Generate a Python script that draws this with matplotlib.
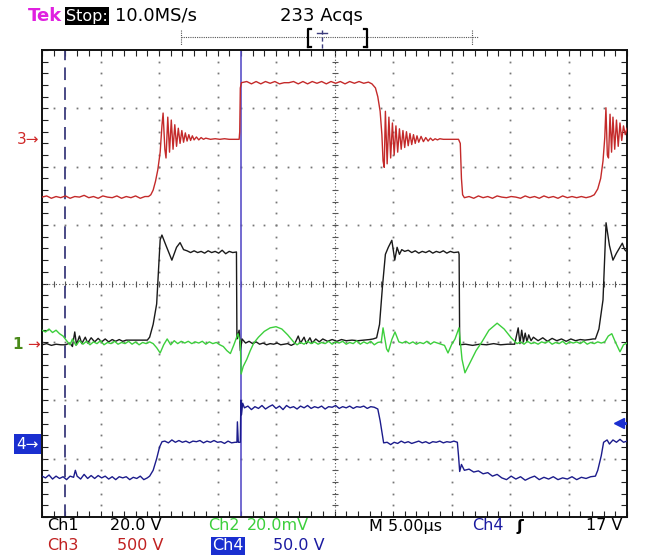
import numpy as np
import matplotlib
matplotlib.use('Agg')
import matplotlib.pyplot as plt
from matplotlib import transforms

# time in microseconds (5 us/div), amplitude in screen divisions
ch3_t = [0.0, 0.4, 0.8, 1.2, 1.6, 2.0, 2.4, 2.8, 3.2, 3.6, 4.0, 4.4, 4.8, 5.2, 5.6, 6.0, 6.4, 6.8, 7.2, 7.6, 8.0, 8.4, 8.8, 9.1,
         9.3, 9.5, 9.7, 9.9, 10.1, 10.25, 10.35, 10.5, 10.6, 10.75, 10.9, 11.05, 11.2, 11.35, 11.5, 11.65, 11.8, 11.95, 12.1, 12.25,
         12.4, 12.55, 12.7, 12.85, 13.0, 13.2, 13.4, 13.6, 13.8, 14.0, 14.4, 14.8, 15.2, 15.6, 16.0, 16.4, 16.85,
         16.9, 16.95, 17.05, 17.5, 17.9, 18.3, 18.7, 19.1, 19.5, 19.9, 20.3, 20.7, 21.1, 21.5, 21.9, 22.3, 22.7, 23.1, 23.5, 23.9,
         24.3, 24.7, 25.1, 25.5, 25.9, 26.3, 26.7, 27.1, 27.5, 27.9, 28.2,
         28.5, 28.7, 28.9, 29.05, 29.15, 29.25, 29.35, 29.5, 29.65, 29.8, 29.95, 30.1, 30.25, 30.4, 30.55, 30.7, 30.85, 31.0, 31.15,
         31.3, 31.45, 31.6, 31.75, 31.9, 32.05, 32.2, 32.4, 32.6, 32.8, 33.0, 33.2, 33.4, 33.6, 33.8, 34.0, 34.3, 35.0, 35.6, 35.75,
         35.85, 35.95, 36.1, 36.5, 36.9, 37.3, 37.7, 38.1, 38.5, 38.9, 39.3, 39.7, 40.1, 40.5, 40.9, 41.3, 41.7, 42.1, 42.5, 42.9,
         43.3, 43.7, 44.1, 44.5, 44.9, 45.3, 45.7, 46.1, 46.5, 46.9,
         47.2, 47.5, 47.75, 47.95, 48.1, 48.2, 48.32, 48.42, 48.55, 48.68, 48.8, 48.95, 49.1, 49.25, 49.4, 49.55, 49.7, 49.85, 50.0]
ch3_v = [1.48, 1.50, 1.46, 1.49, 1.47, 1.50, 1.46, 1.49, 1.48, 1.51, 1.47, 1.49, 1.46, 1.50, 1.48, 1.47, 1.50, 1.46, 1.49, 1.47, 1.50, 1.46, 1.49, 1.49,
         1.52, 1.60, 1.75, 1.95, 2.25, 2.70, 2.92, 2.30, 2.15, 2.85, 2.25, 2.80, 2.30, 2.72, 2.35, 2.66, 2.40, 2.62, 2.42, 2.58,
         2.44, 2.55, 2.45, 2.53, 2.46, 2.51, 2.46, 2.50, 2.47, 2.49, 2.47, 2.48, 2.47, 2.48, 2.47, 2.47, 2.47,
         2.60, 3.35, 3.44, 3.46, 3.42, 3.46, 3.42, 3.46, 3.43, 3.46, 3.42, 3.44, 3.44, 3.46, 3.42, 3.46, 3.42, 3.46, 3.43, 3.46,
         3.42, 3.46, 3.43, 3.46, 3.42, 3.46, 3.43, 3.46, 3.43, 3.45, 3.42,
         3.35, 3.20, 2.95, 2.55, 2.10, 1.99, 2.95, 2.05, 2.85, 2.15, 2.75, 2.20, 2.70, 2.25, 2.65, 2.30, 2.62, 2.33, 2.60,
         2.36, 2.57, 2.38, 2.55, 2.40, 2.53, 2.42, 2.52, 2.43, 2.50, 2.44, 2.49, 2.45, 2.48, 2.46, 2.48, 2.47, 2.47, 2.47, 2.40,
         1.80, 1.52, 1.47, 1.49, 1.46, 1.50, 1.47, 1.49, 1.46, 1.50, 1.48, 1.47, 1.49, 1.48, 1.46, 1.50, 1.47, 1.49, 1.46, 1.50,
         1.47, 1.49, 1.46, 1.50, 1.47, 1.49, 1.47, 1.49, 1.47, 1.49,
         1.52, 1.62, 1.80, 2.10, 2.50, 3.01, 2.20, 2.15, 2.90, 2.25, 2.85, 2.30, 2.80, 2.35, 2.75, 2.45, 2.70, 2.55, 2.66]

ch1_t = [0.0, 0.4, 0.8, 1.2, 1.6, 2.0, 2.4, 2.6, 2.8, 2.95, 3.2, 3.4, 3.7, 3.9, 4.2, 4.5, 4.8, 5.1, 5.4, 5.7, 6.0, 6.3, 6.6, 6.9, 7.2, 7.6, 8.0, 8.5, 9.0,
         9.2, 9.5, 9.8, 9.95, 10.1, 10.25, 10.6, 11.1, 11.5, 11.8, 12.1, 12.4, 12.7, 13.0, 13.3, 13.6, 13.9, 14.2, 14.5, 14.8,
         15.1, 15.4, 15.7, 16.0, 16.3, 16.62,
         16.66, 16.72, 16.85, 16.95, 17.1, 17.4, 17.7, 18.0, 18.3, 18.6, 18.9, 19.2, 19.5, 19.8, 20.1, 20.4, 20.7, 21.0, 21.3, 21.6,
         21.9, 22.1, 22.4, 22.6, 22.9, 23.1, 23.4, 23.7, 24.0, 24.4, 24.8, 25.2, 25.6, 26.0, 26.5, 27.0, 27.5, 28.0, 28.3,
         28.6, 28.85, 29.1, 29.35, 29.6, 29.9, 30.15, 30.35, 30.55, 30.75, 31.0, 31.3, 31.6, 31.9, 32.2, 32.5, 32.8, 33.1, 33.4,
         33.7, 34.0, 34.3, 34.6, 34.9, 35.2, 35.6,
         35.65, 35.7, 36.2, 36.8, 37.4, 38.0, 38.6, 39.2, 39.8, 40.4, 40.7, 40.85, 41.0, 41.15, 41.3, 41.45, 41.6, 41.8, 42.0, 42.4,
         42.8, 43.2, 43.6, 44.0, 44.4, 44.8, 45.2, 45.6, 46.0, 46.4, 46.8, 47.1,
         47.3, 47.6, 47.95, 48.1, 48.21, 48.5, 48.8, 49.1, 49.4, 49.6, 49.8, 50.0]
ch1_v = [-1.05, -1.03, -1.06, -1.04, -1.05, -1.05, -1.02, -1.08, -0.83, -1.05, -0.90, -1.03, -0.92, -1.02, -0.93, -1.00, -0.94, -1.00,
         -0.95, -1.00, -0.96, -0.99, -0.96, -0.99, -0.97, -0.97, -0.97, -0.97, -0.97,
         -0.92, -0.70, -0.35, 0.20, 0.75, 0.83, 0.65, 0.40, 0.62, 0.70, 0.58, 0.56, 0.53, 0.56, 0.53, 0.55, 0.52, 0.56, 0.53, 0.55,
         0.52, 0.57, 0.51, 0.55, 0.53, 0.54,
         -0.95, -0.90, -0.80, -1.15, -0.95, -1.02, -0.99, -1.03, -1.00, -1.04, -1.02, -1.05, -1.03, -1.04, -1.02, -1.05, -1.04, -1.03,
         -1.06, -1.03, -0.90, -1.02, -0.92, -1.03, -0.93, -1.02, -0.95, -1.00, -0.95, -0.99, -0.96, -0.99, -0.96, -0.98, -0.97,
         -0.98, -0.97, -0.96, -0.95,
         -0.93, -0.70, -0.05, 0.50, 0.62, 0.74, 0.40, 0.62, 0.50, 0.58, 0.55, 0.57, 0.53, 0.56, 0.52, 0.55, 0.53, 0.56, 0.52,
         0.55, 0.53, 0.56, 0.52, 0.55, 0.53, 0.54,
         0.50, -1.05, -1.04, -1.06, -1.04, -1.05, -1.03, -1.05, -1.04, -1.04, -0.76, -1.03, -0.80, -1.00, -0.85, -1.00, -0.88, -0.98,
         -0.92, -0.98, -0.93, -0.99, -0.94, -0.98, -0.95, -0.99, -0.95, -0.98, -0.96, -0.97, -0.96, -0.95,
         -0.95, -0.78, -0.28, 0.50, 1.04, 0.65, 0.40, 0.52, 0.62, 0.69, 0.58, 0.54]

ch2_t = [0.0, 0.3, 0.6, 0.9, 1.2, 1.5, 1.8, 2.1, 2.4, 2.6, 2.9, 3.2, 3.5, 3.8, 4.1, 4.4, 4.7, 5.0, 5.3, 5.6, 5.9, 6.2, 6.5, 6.8,
         7.1, 7.4, 7.7, 8.0, 8.3, 8.6, 8.9, 9.2, 9.5,
         9.8, 10.1, 10.4, 10.7, 11.0, 11.3, 11.6, 11.9, 12.2, 12.5, 12.8, 13.1, 13.4, 13.7, 14.0, 14.3, 14.6, 14.9, 15.2, 15.5,
         15.8, 16.1, 16.4, 16.75, 16.95, 17.02, 17.2, 17.5, 17.8, 18.1, 18.5, 19.0, 19.5, 20.0, 20.5, 21.0, 21.5, 21.8,
         22.1, 22.4, 22.7, 23.0, 23.3, 23.6, 23.9, 24.2, 24.5, 24.8, 25.1, 25.4, 25.7, 26.0, 26.3, 26.6, 26.9, 27.2, 27.5, 27.8,
         28.1, 28.4, 28.7, 29.0, 29.15, 29.45, 29.6, 29.9, 30.17, 30.5, 30.8,
         31.1, 31.4, 31.7, 32.0, 32.3, 32.6, 32.9, 33.2, 33.5, 33.8, 34.1, 34.4, 34.7, 35.0, 35.3, 35.64, 35.9, 36.15, 36.6, 37.1,
         37.6, 38.2, 38.9, 39.5, 40.1, 40.6,
         40.9, 41.2, 41.5, 41.8, 42.1, 42.4, 42.7, 43.0, 43.3, 43.6, 43.9, 44.2, 44.5, 44.8, 45.1, 45.4, 45.7, 46.0, 46.3, 46.6,
         46.9, 47.2, 47.5, 47.8, 48.1, 48.4, 48.7, 49.0, 49.4, 49.7, 50.0]
ch2_v = [-0.80, -0.83, -0.78, -0.84, -0.80, -0.86, -0.90, -0.98, -1.05, -0.95, -1.06, -0.98, -1.04, -0.99, -1.05, -1.00, -1.03, -0.98,
         -1.05, -1.01, -1.03, -0.99, -1.04, -1.01, -1.03, -0.99, -1.04, -1.00, -1.05, -1.01, -1.03, -1.00, -1.03,
         -1.10, -1.19, -1.05, -0.95, -1.05, -0.98, -1.03, -0.99, -1.02, -0.99, -1.03, -1.00, -1.02, -0.99, -1.04, -1.00, -1.03, -1.01,
         -1.05, -1.08, -1.15, -1.20, -1.05, -0.86, -1.00, -1.55, -1.42, -1.30, -1.15, -1.02, -0.92, -0.82, -0.76, -0.74, -0.78,
         -0.88, -1.00, -1.05,
         -1.01, -1.04, -0.99, -1.03, -1.00, -1.04, -1.01, -1.03, -0.99, -1.04, -1.00, -1.02, -0.99, -1.04, -1.01, -1.03, -0.98,
         -1.04, -1.00, -1.03, -0.99, -1.05, -1.01, -1.00, -0.76, -1.12, -1.17, -0.96, -0.83, -1.00, -1.02,
         -0.99, -1.03, -1.00, -1.04, -1.01, -1.03, -0.99, -1.04, -1.00, -1.02, -1.04, -1.06, -1.19, -1.05, -0.95, -0.76, -1.30,
         -1.53, -1.35, -1.15, -1.00, -0.80, -0.68, -0.78, -0.93, -1.03,
         -1.00, -1.04, -0.99, -1.03, -1.01, -1.04, -1.00, -1.02, -0.99, -1.04, -1.01, -1.03, -0.99, -1.04, -1.00, -1.02, -1.00,
         -1.03, -0.99, -1.04, -1.01, -1.03, -1.00, -1.02, -1.00, -0.90, -0.86, -1.00, -1.17, -1.05, -1.02]

ch4_t = [0.0, 0.3, 0.6, 0.9, 1.2, 1.5, 1.8, 2.1, 2.4, 2.7, 2.85, 3.0, 3.3, 3.6, 3.9, 4.2, 4.5, 4.8, 5.1, 5.4, 5.7, 6.0, 6.3, 6.6,
         6.9, 7.2, 7.5, 7.8, 8.1, 8.4, 8.7, 9.0,
         9.2, 9.5, 9.8, 10.05, 10.26, 10.5, 10.8, 11.1, 11.4, 11.7, 12.0, 12.3, 12.6, 12.9, 13.2, 13.5, 13.8, 14.1, 14.4, 14.7,
         15.0, 15.3, 15.6, 15.9, 16.2, 16.5, 16.66, 16.70, 16.78, 16.95, 17.0, 17.05, 17.15, 17.3,
         17.6, 17.9, 18.2, 18.5, 18.8, 19.1, 19.4, 19.7, 20.0, 20.3, 20.6, 20.9, 21.2, 21.5, 21.8, 22.1, 22.4, 22.7, 23.0, 23.3,
         23.6, 23.9, 24.2, 24.5, 24.8, 25.1, 25.4, 25.7, 26.0, 26.3, 26.6, 26.9, 27.2, 27.5, 27.8, 28.1, 28.4, 28.7, 28.9, 29.1, 29.2,
         29.5, 29.8, 30.1, 30.4, 30.7, 31.0, 31.3, 31.6, 31.9, 32.2, 32.5, 32.8, 33.1, 33.4, 33.7, 34.0, 34.3, 34.6, 34.9, 35.2,
         35.5, 35.6, 35.7, 35.85, 36.1, 36.5, 36.9, 37.3, 37.7, 38.1, 38.5, 38.9, 39.3,
         39.7, 40.1, 40.5, 40.9, 41.3, 41.7, 42.1, 42.5, 42.9, 43.3, 43.7, 44.1, 44.5, 44.9, 45.3, 45.7, 46.1, 46.5, 46.9, 47.3,
         47.5, 47.8, 48.0, 48.3, 48.5, 48.8, 49.1, 49.4, 49.7, 50.0]
ch4_v = [-3.30, -3.33, -3.28, -3.35, -3.30, -3.34, -3.31, -3.36, -3.30, -3.32, -3.20, -3.30, -3.35, -3.27, -3.34, -3.29, -3.34, -3.29,
         -3.33, -3.30, -3.35, -3.31, -3.36, -3.31, -3.33, -3.31, -3.36, -3.32, -3.34, -3.30, -3.36, -3.33,
         -3.30, -3.20, -3.00, -2.80, -2.71, -2.70, -2.73, -2.68, -2.72, -2.69, -2.72, -2.70, -2.73, -2.70, -2.71, -2.69, -2.73, -2.70,
         -2.72, -2.69, -2.72, -2.71, -2.74, -2.70, -2.73, -2.72, -2.72, -2.37, -2.72, -2.72, -2.00, -2.25, -2.05, -2.13,
         -2.10, -2.16, -2.11, -2.14, -2.09, -2.15, -2.11, -2.08, -2.14, -2.10, -2.16, -2.09, -2.13, -2.11, -2.15, -2.10, -2.13, -2.09,
         -2.14, -2.11, -2.13, -2.10, -2.15, -2.11, -2.12, -2.09, -2.14, -2.11, -2.13, -2.10, -2.14, -2.11, -2.12, -2.10, -2.14, -2.11,
         -2.12, -2.15, -2.35, -2.60, -2.73,
         -2.72, -2.76, -2.72, -2.74, -2.70, -2.73, -2.71, -2.74, -2.72, -2.70, -2.73, -2.71, -2.74, -2.71, -2.72, -2.70, -2.73, -2.71,
         -2.72, -2.70, -2.72, -2.95, -3.22, -3.10, -3.20, -3.18, -3.23, -3.21, -3.26, -3.24, -3.30, -3.27, -3.33,
         -3.36, -3.30, -3.35, -3.31, -3.37, -3.33, -3.30, -3.36, -3.32, -3.35, -3.31, -3.36, -3.33, -3.35, -3.31, -3.36, -3.32, -3.34,
         -3.31, -3.30, -3.20, -2.95, -2.72, -2.68, -2.75, -2.68, -2.72, -2.67, -2.72, -2.70]

# ground markers (div), trigger level (div), cursor and trigger time (us)
gnd_levels = {'3': 2.46, '1': -1.05, '4': -2.75}
trig_level = -2.39
cursor_t = 1.97
trig_t = 17.01

RED = '#c42a2a'
BLK = '#1a1a1a'
GRN = '#3ccf3c'
BLU = '#1c1c8c'

fig = plt.figure(figsize=(6.45, 5.58), dpi=100)
W, H = 645, 558
ax = fig.add_axes([42 / W, 41 / H, 585 / W, 467 / H])
ax.set_xlim(0, 50)
ax.set_ylim(-4, 4)

# graticule
ax.set_xticks(np.arange(0, 51, 5))
ax.set_xticks(np.arange(0, 51, 1), minor=True)
ax.set_yticks(np.arange(-4, 4.01, 1))
ax.set_yticks(np.arange(-4, 4.01, 0.2), minor=True)
ax.tick_params(which='both', direction='in', length=4, width=0.8, top=True, right=True,
               labelbottom=False, labelleft=False, color='#222222')
for s in ax.spines.values():
    s.set_linewidth(1.4)
    s.set_color('#111111')

ydots = np.arange(-4, 4.01, 0.2)
for gx in [5, 10, 15, 20, 30, 35, 40, 45]:
    ax.plot(np.full_like(ydots, gx), ydots, ls='none', marker='s', ms=1.3, color='#777777', mec='none')
xdots = np.arange(0, 50.1, 1)
for gy in [-3, -2, -1, 1, 2, 3]:
    ax.plot(xdots, np.full_like(xdots, gy), ls='none', marker='s', ms=1.3, color='#777777', mec='none')
ax.axvline(25, ls=(0, (1, 2)), color='#555555', lw=0.8)
ax.axhline(0, ls=(0, (1, 2)), color='#555555', lw=0.8)
ax.plot(xdots, np.zeros_like(xdots), ls='none', marker='|', ms=5, mew=0.8, color='#555555')
ax.plot(np.full_like(ydots, 25), ydots, ls='none', marker='_', ms=5, mew=0.8, color='#555555')

ax.axvline(cursor_t, color='#3c3c7c', lw=1.3, ls=(0, (7, 4)), zorder=2)
ax.axvline(trig_t, color='#5a50c8', lw=1.2, zorder=2)

ax.plot(ch3_t, ch3_v, color=RED, lw=1.0, zorder=3)
ax.plot(ch1_t, ch1_v, color=BLK, lw=1.0, zorder=3)
ax.plot(ch2_t, ch2_v, color=GRN, lw=1.0, zorder=4)
ax.plot(ch4_t, ch4_v, color=BLU, lw=1.0, zorder=3)

# trigger level arrow at right edge
ax.plot([49.3], [trig_level], marker='<', ms=7, color='#1a2fd0', clip_on=False, zorder=5)
ax.plot([49.3, 50], [trig_level, trig_level], color='#1a2fd0', lw=2, zorder=5)

# channel ground markers
tr = transforms.blended_transform_factory(ax.transAxes, ax.transData)
ax.text(-0.004, gnd_levels['3'], '3\u2192', transform=tr, ha='right', va='center', color='#d02828', fontsize=11)
ax.text(-0.004, gnd_levels['1'], '\u2192', transform=tr, ha='right', va='center', color='#d02828', fontsize=11)
ax.text(-0.032, gnd_levels['1'], '1', transform=tr, ha='right', va='center', color='#4a8a1a', fontsize=11, fontweight='bold')
ax.text(-0.006, gnd_levels['4'], '4\u2192', transform=tr, ha='right', va='center', color='white', fontsize=11,
        bbox=dict(facecolor='#1a2fd0', edgecolor='none', pad=1.5))

# header
def fx(x):
    return x / W

def fy(y):
    return 1 - y / H

fig.text(fx(28), fy(16), 'Tek', color='#e020e0', fontsize=13, fontweight='bold', va='center')
fig.text(fx(66), fy(16), 'Stop:', color='white', fontsize=11.5, va='center',
         bbox=dict(facecolor='black', edgecolor='none', pad=1))
fig.text(fx(115), fy(16), '10.0MS/s', color='black', fontsize=13, va='center')
fig.text(fx(280), fy(16), '233 Acqs', color='black', fontsize=13, va='center')

ov = fig.add_axes([0, 0, 1, 1])
ov.set_xlim(0, W)
ov.set_ylim(H, 0)
ov.axis('off')
ov.plot([181, 478], [37, 37], color='#555555', lw=0.8, ls=(0, (1, 1)))
ov.plot([181, 181], [30, 45], color='#555555', lw=0.8, ls=(0, (1, 1)))
ov.plot([472, 472], [30, 45], color='#555555', lw=0.8, ls=(0, (1, 1)))
ov.plot([308, 308, 311], [47, 29, 29], color='black', lw=1.6)
ov.plot([308, 311], [47, 47], color='black', lw=1.6)
ov.plot([367, 367, 364], [47, 29, 29], color='black', lw=1.6)
ov.plot([367, 364], [47, 47], color='black', lw=1.6)
ov.plot([322, 322], [30, 50], color='#3c3c7c', lw=1.0, ls=(0, (3, 2)))
ov.plot([317, 327], [33, 33], color='#3c3c7c', lw=1.0)

# footer
fs = 11.5
fig.text(fx(47), fy(526), 'Ch1', color='black', fontsize=fs, va='center')
fig.text(fx(110), fy(526), '20.0 V', color='black', fontsize=fs, va='center')
fig.text(fx(208), fy(526), 'Ch2', color=GRN, fontsize=fs, va='center')
fig.text(fx(247), fy(526), '20.0mV', color=GRN, fontsize=fs, va='center')
fig.text(fx(369), fy(526), 'M 5.00\u00b5s', color='black', fontsize=fs, va='center')
fig.text(fx(472), fy(526), 'Ch4', color='#1a1aa0', fontsize=fs, va='center')
fig.text(fx(516), fy(526), '\u0283', color='black', fontsize=fs, va='center', fontweight='bold')
fig.text(fx(622), fy(526), '17 V', color='black', fontsize=fs, va='center', ha='right')
fig.text(fx(47), fy(546), 'Ch3', color='#c02020', fontsize=fs, va='center')
fig.text(fx(117), fy(546), '500 V', color='#c02020', fontsize=fs, va='center')
fig.text(fx(212), fy(546), 'Ch4', color='white', fontsize=fs, va='center',
         bbox=dict(facecolor='#1a2fd0', edgecolor='none', pad=1))
fig.text(fx(273), fy(546), '50.0 V', color='#1a1aa0', fontsize=fs, va='center')

fig.savefig('out.png', dpi=100, facecolor='white')
